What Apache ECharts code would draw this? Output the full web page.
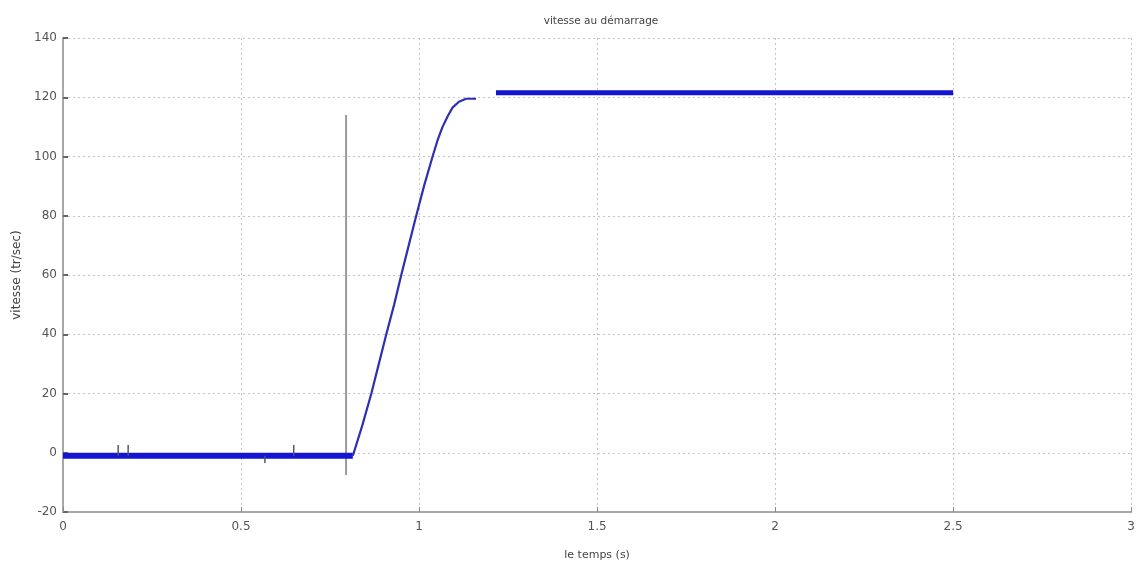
<!DOCTYPE html>
<html>
<head>
<meta charset="utf-8">
<script src="https://cdn.jsdelivr.net/npm/echarts@6/dist/echarts.min.js"></script>
<style>
  html, body { margin: 0; padding: 0; background: #fff; }
  #container { width: 1138px; height: 580px; }
</style>
</head>
<body>
<div id="container"></div>
<script>
// vitesse au demarrage
var lowTime = [0, 0.814];
var lowSpeed = [-1, -1];

// little glitches on the flat part (null = break)
var spikeTime = [0.155, 0.155, null, 0.183, 0.183, null, 0.567, 0.567, null, 0.648, 0.648];
var spikeSpeed = [-1, 2.6, null, -1, 2.6, null, -1, -3.5, null, -1, 2.6];

var rampTime = [0.814, 0.84, 0.866, 0.887, 0.908, 0.93, 0.95, 0.971, 0.992, 1.015, 1.038, 1.052, 1.066, 1.08, 1.094, 1.112, 1.132, 1.16];
var rampSpeed = [-1, 9, 20, 30, 40, 50, 60, 70, 80, 90.5, 100, 105.5, 110, 113.5, 116.5, 118.5, 119.5, 119.5];

var highTime = [1.216, 2.5];
var highSpeed = [121.5, 121.5];

var markTime = [0.795, 0.795];
var markSpeed = [-7.5, 114];

var xTicks = [0, 3, 0.5];
var yTicks = [-20, 140, 20];

function pairs(xs, ys) {
  var out = [];
  for (var i = 0; i < xs.length; i++) {
    out.push(xs[i] === null ? [null, null] : [xs[i], ys[i]]);
  }
  return out;
}

var dom = document.getElementById('container');
var chart = echarts.init(dom);

var labelFont = { color: '#555', fontSize: 12, fontFamily: 'DejaVu Sans' };

chart.setOption({
  animation: false,
  backgroundColor: '#fff',
  title: {
    text: 'vitesse au démarrage',
    left: 596, top: 11, textAlign: 'center',
    textStyle: { fontSize: 10.5, fontWeight: 'normal', color: '#444', fontFamily: 'DejaVu Sans' }
  },
  grid: { left: 63, right: 5, top: 38, bottom: 68, show: false },
  xAxis: {
    type: 'value', min: xTicks[0], max: xTicks[1], interval: xTicks[2],
    name: 'le temps (s)', nameLocation: 'middle', nameGap: 38,
    nameTextStyle: { fontSize: 11, color: '#444', fontFamily: 'DejaVu Sans' },
    axisLine: { onZero: false, lineStyle: { color: '#a8a8a8', width: 2 } },
    axisTick: { inside: true, length: 5, lineStyle: { color: '#888' } },
    axisLabel: Object.assign({ margin: 9 }, labelFont),
    splitLine: { show: true, lineStyle: { type: [2, 3], color: '#c4c4c4' } }
  },
  yAxis: {
    type: 'value', min: yTicks[0], max: yTicks[1], interval: yTicks[2],
    name: 'vitesse (tr/sec)', nameLocation: 'middle', nameGap: 35, nameRotate: 90,
    nameTextStyle: { fontSize: 12, color: '#444', fontFamily: 'DejaVu Sans' },
    axisLine: { onZero: false, lineStyle: { color: '#a8a8a8', width: 2 } },
    axisTick: { inside: true, length: 5, lineStyle: { color: '#666', width: 2 } },
    axisLabel: Object.assign({ margin: 6 }, labelFont),
    splitLine: { show: true, lineStyle: { type: [2, 3], color: '#c4c4c4' } }
  },
  series: [
    {
      type: 'line', data: pairs(markTime, markSpeed), symbol: 'none',
      lineStyle: { color: '#9a9a9a', width: 2 }
    },
    {
      type: 'line', data: pairs(lowTime, lowSpeed), symbol: 'none',
      lineStyle: { color: '#1414d2', width: 6 }
    },
    {
      type: 'line', data: pairs(spikeTime, spikeSpeed), symbol: 'none', connectNulls: false,
      lineStyle: { color: '#556', width: 1.5 }
    },
    {
      type: 'line', data: pairs(rampTime, rampSpeed), symbol: 'none', smooth: false,
      lineStyle: { color: '#2f2fb0', width: 2.2 }
    },
    {
      type: 'line', data: pairs(highTime, highSpeed), symbol: 'none',
      lineStyle: { color: '#1414d2', width: 5 }
    }
  ]
});
</script>
</body>
</html>
